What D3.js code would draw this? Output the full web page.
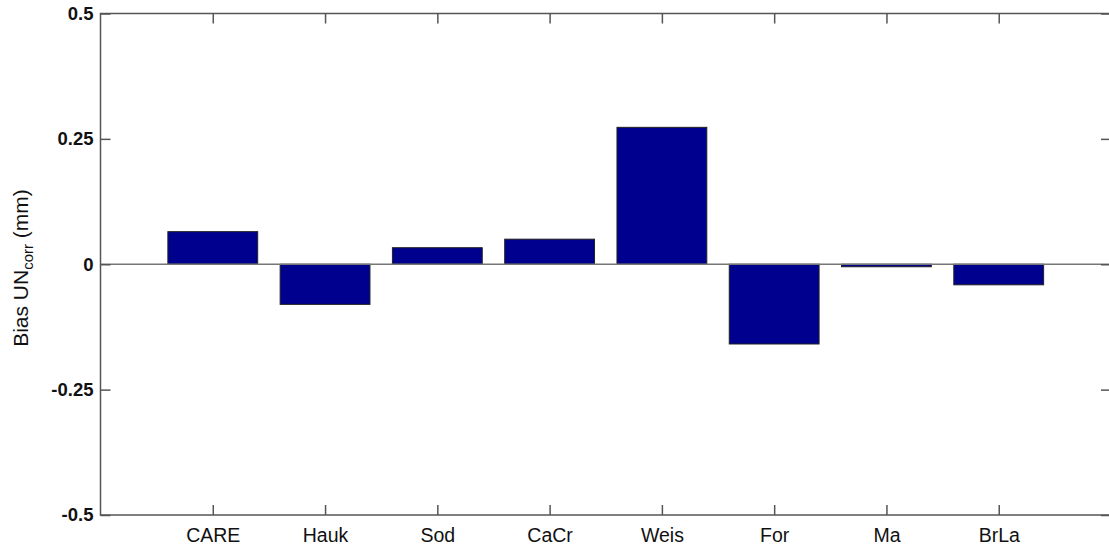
<!DOCTYPE html>
<html>
<head>
<meta charset="utf-8">
<script src="https://cdn.jsdelivr.net/npm/d3@7"></script>
<style>
  body { margin: 0; background: #fff; }
  text { font-family: "Liberation Sans", Arial, sans-serif; fill: #111; }
</style>
</head>
<body>
<svg id="chart" width="1109" height="548"></svg>
<script>
// data
let stations = ["CARE", "Hauk", "Sod", "CaCr", "Weis", "For", "Ma", "BrLa"];
let bias = [0.065, -0.080, 0.033, 0.050, 0.273, -0.159, -0.005, -0.041];
let yTicks = [-0.5, -0.25, 0, 0.25, 0.5];
let yTickLabels = ["-0.5", "-0.25", "0", "0.25", "0.5"];

let margin = {top: 13.5, left: 100.5, right: 1111, bottom: 515};

let svg = d3.select("#chart");

let x = d3.scaleLinear().
domain([0, stations.length + 1]).
range([margin.left, margin.right]);

let y = d3.scaleLinear().
domain([-0.5, 0.5]).
range([margin.bottom, margin.top]);

const barWidth = 0.8;
const tickLen = 10;
const axisColor = "#555";

// bars
svg.append("g").
selectAll("rect").
data(bias).
enter().append("rect").
attr("x", (d, i) => x(i + 1 - barWidth / 2)).
attr("width", x(barWidth) - x(0)).
attr("y", d => y(Math.max(0, d))).
attr("height", d => Math.abs(y(d) - y(0))).
attr("fill", "#00008f").
attr("stroke", "#222").
attr("stroke-width", 1);

// zero line
svg.append("line").
attr("x1", margin.left).attr("x2", margin.right).
attr("y1", y(0)).attr("y2", y(0)).
attr("stroke", "#777").attr("stroke-width", 1.5);

// box
svg.append("rect").
attr("x", margin.left).attr("y", margin.top).
attr("width", margin.right - margin.left).
attr("height", margin.bottom - margin.top).
attr("fill", "none").
attr("stroke", axisColor).attr("stroke-width", 1.5);

// y axis (ticks inward)
let yAxis = d3.axisLeft(y).
tickValues(yTicks).
tickSize(-tickLen).
tickPadding(7).
tickFormat((d, i) => yTickLabels[i]);

svg.append("g").
attr("transform", "translate(" + margin.left + ",0)").
call(yAxis).
call(g => g.select(".domain").remove()).
call(g => g.selectAll("line").attr("stroke", axisColor).attr("stroke-width", 1.5)).
call(g => g.selectAll("text").
  attr("font-size", 18.5).attr("font-weight", "bold").
  style("font-family", "'Liberation Sans', Arial, sans-serif").attr("fill", "#111"));

// right side ticks
svg.append("g").
attr("transform", "translate(" + margin.right + ",0)").
call(d3.axisRight(y).tickValues(yTicks).tickSize(-tickLen).tickFormat("")).
call(g => g.select(".domain").remove()).
call(g => g.selectAll("line").attr("stroke", axisColor).attr("stroke-width", 1.5));

// x axis
let xAxis = d3.axisBottom(x).
tickValues(d3.range(1, stations.length + 1)).
tickSize(-tickLen).
tickPadding(13).
tickFormat(d => stations[d - 1]);

svg.append("g").
attr("transform", "translate(0," + margin.bottom + ")").
call(xAxis).
call(g => g.select(".domain").remove()).
call(g => g.selectAll("line").attr("stroke", axisColor).attr("stroke-width", 1.5)).
call(g => g.selectAll("text").
  attr("font-size", 19.5).
  style("font-family", "'Liberation Sans', Arial, sans-serif").attr("fill", "#111"));

// top ticks
svg.append("g").
attr("transform", "translate(0," + margin.top + ")").
call(d3.axisTop(x).tickValues(d3.range(1, stations.length + 1)).tickSize(-tickLen).tickFormat("")).
call(g => g.select(".domain").remove()).
call(g => g.selectAll("line").attr("stroke", axisColor).attr("stroke-width", 1.5));

// y label
let yLabel = svg.append("text").
attr("transform", "translate(28,268) rotate(-90)").
attr("text-anchor", "middle").
attr("font-size", 21).
attr("fill", "#222");

yLabel.append("tspan").text("Bias UN");
yLabel.append("tspan").attr("font-size", 15).attr("dy", 5).text("corr");
yLabel.append("tspan").attr("dy", -5).text(" (mm)");
</script>
</body>
</html>
